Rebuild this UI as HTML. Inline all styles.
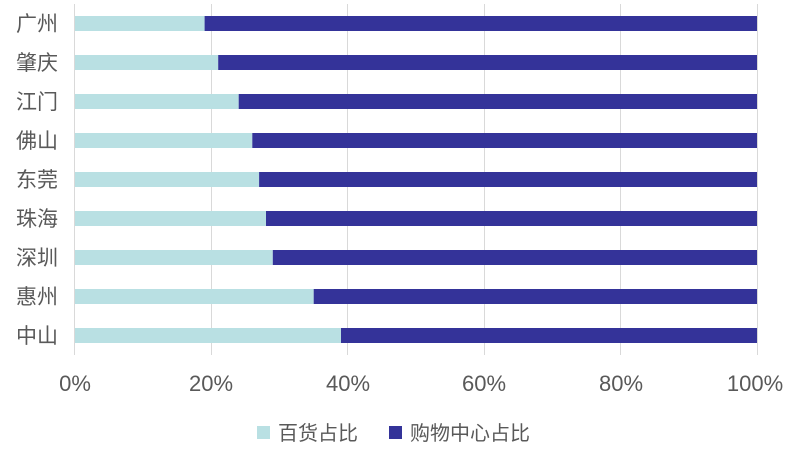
<!DOCTYPE html>
<html><head><meta charset="utf-8"><style>
body{margin:0;background:#fff;}
svg text{font-family:"Liberation Sans","Noto Sans CJK SC",sans-serif;fill:#595959;}
</style></head><body>
<svg width="792" height="458" xmlns="http://www.w3.org/2000/svg">
<g stroke="#d9d9d9" stroke-width="1">
<line x1="74.5" y1="4" x2="74.5" y2="355"/>
<line x1="211.5" y1="4" x2="211.5" y2="355"/>
<line x1="347.5" y1="4" x2="347.5" y2="355"/>
<line x1="484.5" y1="4" x2="484.5" y2="355"/>
<line x1="620.5" y1="4" x2="620.5" y2="355"/>
<line x1="757.5" y1="4" x2="757.5" y2="355"/>
</g>
<g fill="#b9e0e3">
<rect x="75" y="16" width="129.6" height="15"/>
<rect x="75" y="55" width="143.2" height="15"/>
<rect x="75" y="94" width="163.7" height="15"/>
<rect x="75" y="133" width="177.3" height="15"/>
<rect x="75" y="172" width="184.1" height="15"/>
<rect x="75" y="211" width="191" height="15"/>
<rect x="75" y="250" width="197.8" height="15"/>
<rect x="75" y="289" width="238.7" height="15"/>
<rect x="75" y="328" width="266" height="15"/>
</g>
<g fill="#343399">
<rect x="204.6" y="16" width="552.4" height="15"/>
<rect x="218.2" y="55" width="538.8" height="15"/>
<rect x="238.7" y="94" width="518.3" height="15"/>
<rect x="252.3" y="133" width="504.7" height="15"/>
<rect x="259.1" y="172" width="497.9" height="15"/>
<rect x="266" y="211" width="491" height="15"/>
<rect x="272.8" y="250" width="484.2" height="15"/>
<rect x="313.7" y="289" width="443.3" height="15"/>
<rect x="341" y="328" width="416" height="15"/>
</g>
<g font-size="21" text-anchor="end">
<text x="58" y="31">广州</text>
<text x="58" y="70">肇庆</text>
<text x="58" y="109">江门</text>
<text x="58" y="148">佛山</text>
<text x="58" y="187">东莞</text>
<text x="58" y="226">珠海</text>
<text x="58" y="265">深圳</text>
<text x="58" y="304">惠州</text>
<text x="58" y="343">中山</text>
</g>
<g font-size="22" text-anchor="middle">
<text x="75" y="391">0%</text><text x="211" y="391">20%</text><text x="348" y="391">40%</text>
<text x="484" y="391">60%</text><text x="621" y="391">80%</text><text x="755" y="391">100%</text>
</g>
<rect x="257" y="426" width="13" height="13" fill="#b9e0e3"/>
<text x="278" y="440" font-size="20">百货占比</text>
<rect x="389" y="426" width="13" height="13" fill="#343399"/>
<text x="410" y="440" font-size="20">购物中心占比</text>
</svg>
</body></html>
